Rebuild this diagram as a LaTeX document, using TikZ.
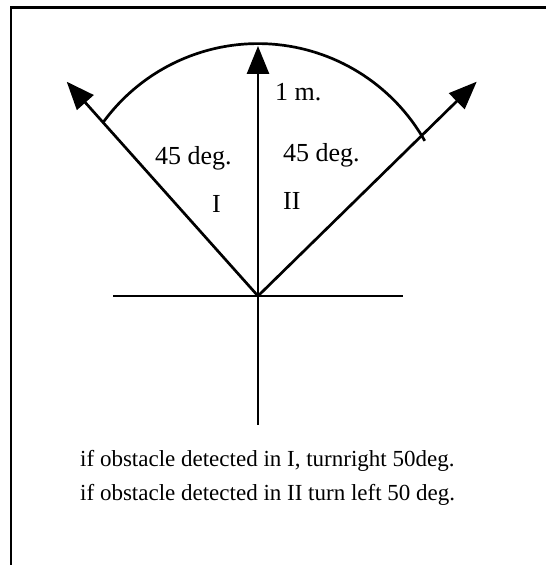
\documentclass[tikz,border=0pt]{standalone}
\usepackage{fontspec}
\setmainfont{Liberation Serif}
\usetikzlibrary{arrows.meta}
\tikzset{
  ln/.style={line width=2.7pt, black},
  arr/.style={ln, -{Triangle[length=28pt,width=22pt]}},
  lbl/.style={inner sep=0pt, anchor=base west, font=\fontsize{26}{30}\selectfont},
  note/.style={inner sep=0pt, anchor=base west, font=\fontsize{23}{27}\selectfont},
}
\begin{document}
\begin{tikzpicture}[x=1pt,y=1pt]
\useasboundingbox (0,0) rectangle (546,565);
% frame (top and left edges)
\draw[line width=2.7pt] (11,-10) -- (11,557.7) -- (560,557.7);
% centre and ends
\coordinate (O) at (258,269);
\coordinate (T) at (258,519);
\coordinate (B) at (258,140);
\coordinate (HL) at (113,269);
\coordinate (HR) at (403,269);
\coordinate (LA) at (66.7,483.3);
\coordinate (RA) at (476.7,483.3);
\coordinate (C) at (258,329.8);
% lines
\draw[ln] (HL) -- (HR);
\draw[ln] (B) -- (O);
\draw[arr] (O) -- (T);
\draw[arr] (O) -- (LA);
\draw[arr] (O) -- (RA);
% arc
\draw[ln] ([shift={(144.1:191.6)}]C) arc[start angle=144.1, end angle=29.5, radius=191.6];
% labels
\node[lbl] (m) at (275,464) {1 m.};
\node[lbl] (dl) at (155,400) {45 deg.};
\node[lbl] (one) at (212,352) {I};
\node[lbl] (dr) at (283,403) {45 deg.};
\node[lbl] (two) at (283,355) {II};
\node[note] (n1) at (80,98) {if obstacle detected in I, turnright 50deg.};
\node[note] (n2) at (80,64) {if obstacle detected in II turn left 50 deg.};
\end{tikzpicture}
\end{document}
